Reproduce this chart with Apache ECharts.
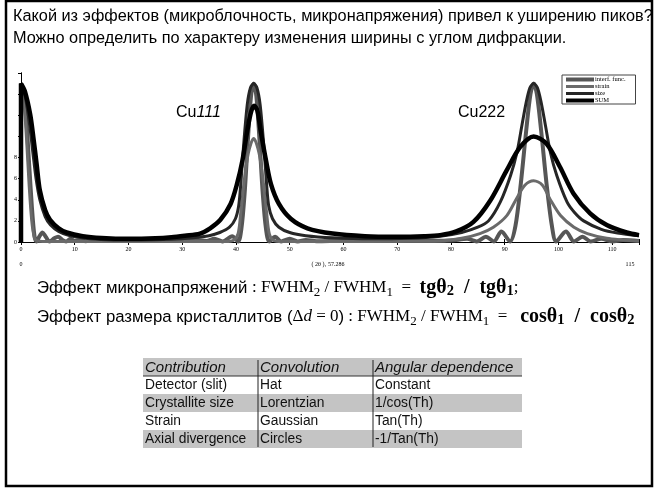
<!DOCTYPE html>
<html><head><meta charset="utf-8">
<script src="https://cdn.jsdelivr.net/npm/echarts@6/dist/echarts.min.js"></script>
<style>html,body{margin:0;padding:0;background:#fff}#c{width:656px;height:488px}</style>
</head><body><div id="c"></div>
<script>
// ---- texts ----
const titleLines = [
  'Какой из эффектов (микроблочность, микронапряжения) привел к уширению пиков?',
  'Можно определить по характеру изменения ширины с углом дифракции.'
];
const peakLabels = [['Cu', '111'], ['Cu', '222']];
const seriesNames = ['interf. func.', 'strain', 'size', 'SUM'];
const xTickValues = [0, 10, 20, 30, 40, 50, 60, 70, 80, 90, 100, 110];
const yTickLabels = [0, 2, 4, 6, 8];
const xSubLabels = ['0', '( 2θ )₁ 57.286', '115'];
const tableHeader = ['Contribution', 'Convolution', 'Angular dependence'];
const tableRows = [
  ['Detector (slit)', 'Hat', 'Constant'],
  ['Crystallite size', 'Lorentzian', '1/cos(Th)'],
  ['Strain', 'Gaussian', 'Tan(Th)'],
  ['Axial divergence', 'Circles', '-1/Tan(Th)']
];

// ---- series values (2θ, intensity) ----
const interfData = [[0,0],[0,15],[0.5,14.2],[1.0,11.5],[1.5,7.5],[2.0,3.5],[2.5,0.6],[2.9,0.05],[3.4,0.5],[4.0,0.9],[4.6,0.5],[5.3,0.05],[6.2,0.35],[6.9,0.5],[7.7,0.2],[8.4,0.05],[9.2,0.3],[10,0.1],[11,0.2],[12,0.08],[14,0.15],[16,0.1],[20,0.12],[25,0.1],[30,0.12],[33,0.2],[34.5,0.1],[36,0.3],[37.5,0.05],[39.3,0.55],[40.4,0.05],[41,1.2],[41.6,4.5],[42.2,9.5],[42.8,13.8],[43.3,15],[43.8,13.8],[44.4,9.5],[45,4.5],[45.6,1.2],[46.2,0.05],[47.3,0.5],[48.4,0.05],[50,0.3],[51.5,0.05],[53,0.2],[55,0.08],[60,0.12],[65,0.1],[70,0.1],[75,0.12],[80,0.15],[83,0.3],[84.8,0.05],[86.5,0.5],[88,0.05],[89.4,1.0],[91,0.05],[92,1.5],[93,5.5],[94,10.5],[94.8,14],[95.4,15],[96,14],[96.8,10.5],[97.8,5.5],[98.8,1.5],[99.6,0.05],[101.4,1.0],[102.9,0.05],[104.5,0.5],[106,0.05],[108,0.3],[110,0.05],[112,0.2],[115,0.1]];
const strainData = [[0,15],[0.5,13.5],[1,10],[1.5,5.5],[2,2],[2.5,0.4],[3,0.1],[4,0.05],[10,0.05],[20,0.05],[30,0.05],[38,0.05],[39.5,0.15],[40.4,0.8],[40.9,2.8],[41.5,5.6],[42.3,8.4],[43.3,9.8],[44.3,8.4],[45.1,5.6],[45.7,2.8],[46.2,0.8],[47,0.15],[48.5,0.05],[60,0.05],[70,0.06],[78,0.1],[82,0.35],[85.4,0.8],[87.9,1.4],[90.4,2.5],[92.2,4.1],[93.8,5.4],[95.4,5.8],[97,5.4],[98.4,4.1],[100.4,2.5],[102.9,1.4],[105.4,0.8],[109,0.35],[112,0.2],[115,0.1]];
const sizeData = [[0,15],[0.7,14],[1.5,11.5],[2.2,8.5],[2.8,6],[3.5,4],[4.5,2.4],[5.5,1.6],[7,1.0],[9,0.6],[12,0.35],[16,0.22],[22,0.18],[28,0.25],[32,0.4],[35,0.6],[37,0.9],[38.8,1.4],[39.9,2.2],[40.5,3.4],[40.9,5.5],[41.4,9.0],[42.1,13.0],[42.7,14.6],[43.3,15],[43.9,14.6],[44.5,13.0],[45.2,9.0],[45.7,5.5],[46.1,3.4],[46.8,2.2],[48,1.4],[50,0.9],[53,0.6],[58,0.4],[65,0.3],[72,0.35],[78,0.55],[82,0.9],[85,1.4],[87,2.0],[89.2,3.8],[91.1,6.3],[92.3,8.5],[93.2,11.0],[94.0,13.2],[94.7,14.6],[95.4,15],[96.1,14.6],[96.8,13.2],[97.6,11.0],[98.5,8.5],[99.7,6.3],[101.6,3.8],[103,2.8],[104.7,2.0],[108,1.2],[111,0.85],[115,0.6]];
const sumData = [[0,0],[0,15.0],[0.7,14.3],[1.7,12.1],[2.3,9.9],[2.9,7.4],[3.5,4.9],[4.5,3.0],[5.4,2.1],[7,1.3],[8.5,0.9],[11.5,0.55],[15,0.38],[20,0.3],[25,0.35],[28,0.45],[30.5,0.6],[33.3,0.8],[35.2,1.3],[37.1,2.1],[39,3.6],[40.2,5.5],[41.2,7.7],[42.1,10.5],[42.8,12.3],[43.4,12.9],[44,12.4],[44.6,10.5],[45.6,7.7],[46.5,5.5],[48,3.6],[50.2,2.2],[53.3,1.3],[58,0.8],[64,0.55],[70,0.5],[75,0.55],[78,0.65],[81,1.0],[84.2,1.9],[87.3,3.9],[90.4,6.8],[92.9,9.0],[95.4,10.0],[97.8,9.3],[100.3,7.1],[102.8,4.6],[105.9,2.7],[109,1.6],[112.7,0.9],[115,0.65]];

const seriesData = [interfData, strainData, sizeData, sumData];
const seriesColors = ['#565656', '#6a6a6a', '#262626', '#000000'];
const seriesWidths = [4, 3, 3, 4.5];
const legendWidths = [4, 3, 3, 4];

const chart = echarts.init(document.getElementById('c'), null, {renderer: 'canvas'});

const sans = 'Liberation Sans, Arial, sans-serif';
const serif = 'Liberation Serif, Times New Roman, serif';

const graphics = [];
// outer frame
graphics.push({type: 'rect', shape: {x: 6, y: 1, width: 646, height: 485}, style: {fill: null, stroke: '#000', lineWidth: 2.5}, z: 100});
// title
titleLines.forEach((t, i) => {
  graphics.push({type: 'text', x: 13, y: 17 + i * 22, style: {text: t, font: '16.3px ' + sans, fill: '#000', verticalAlign: 'middle'}});
});
// peak labels
const peakPos = [[176, 113], [458, 113]];
peakLabels.forEach((p, i) => {
  graphics.push({type: 'text', x: peakPos[i][0], y: peakPos[i][1], z: 50, style: {
    text: '{a|' + p[0] + '}{' + (i === 0 ? 'b' : 'a') + '|' + p[1] + '}',
    verticalAlign: 'middle',
    rich: {a: {fontFamily: sans, fontSize: 16, fill: '#000'}, b: {fontFamily: sans, fontSize: 16, fontStyle: 'italic', fill: '#000'}}
  }});
});
// sub labels under x axis
const subPos = [21, 328, 630];
xSubLabels.forEach((t, i) => {
  graphics.push({type: 'text', x: subPos[i], y: 264, style: {text: t, font: '6px ' + serif, fill: '#000', align: 'center', verticalAlign: 'middle'}});
});
// formula lines
const richF = {
  s: {fontFamily: sans, fontSize: 16.8, fill: '#000', lineHeight: 22},
  t: {fontFamily: serif, fontSize: 17, fill: '#000', lineHeight: 22},
  ti: {fontFamily: serif, fontSize: 17, fontStyle: 'italic', fill: '#000', lineHeight: 22},
  sub: {fontFamily: serif, fontSize: 13, fill: '#000', lineHeight: 13, verticalAlign: 'bottom'},
  b: {fontFamily: serif, fontSize: 20, fontWeight: 'bold', fill: '#000', lineHeight: 22},
  bsub: {fontFamily: serif, fontSize: 14.5, fontWeight: 'bold', fill: '#000', lineHeight: 14, verticalAlign: 'bottom'}
};
graphics.push({type: 'text', x: 37, y: 288, style: {verticalAlign: 'middle', rich: richF,
  text: '{s|Эффект микронапряжений }{t|: FWHM}{sub|2}{t| / FWHM}{sub|1}{t|  =  }{b|tgθ}{bsub|2}{b|  /  tgθ}{bsub|1}{t|;}'}});
graphics.push({type: 'text', x: 37, y: 317, style: {verticalAlign: 'middle', rich: richF,
  text: '{s|Эффект размера кристаллитов (}{t|Δ}{ti|d}{t| = 0}{s|)}{t| : FWHM}{sub|2}{t| / FWHM}{sub|1}{t|  =   }{b|cosθ}{bsub|1}{b|  /  cosθ}{bsub|2}'}});

// table
const colX = [143, 258, 373, 522];
const rowY0 = 358, rowH = 18;
const allRows = [tableHeader].concat(tableRows);
allRows.forEach((r, ri) => {
  const y = rowY0 + ri * rowH;
  const fill = (ri % 2 === 0) ? '#c4c4c4' : '#ffffff';
  graphics.push({type: 'rect', shape: {x: colX[0], y: y, width: colX[3] - colX[0], height: rowH}, style: {fill: fill}});
  r.forEach((c, ci) => {
    graphics.push({type: 'text', x: colX[ci] + 2, y: y + rowH / 2 + 0.5, z: 10, style: {text: c, fill: '#111', verticalAlign: 'middle',
      font: (ri === 0 ? 'italic 15px ' : '13.8px ') + sans}});
  });
});
graphics.push({type: 'line', shape: {x1: colX[0], y1: rowY0 + rowH, x2: colX[3], y2: rowY0 + rowH}, style: {stroke: '#333', lineWidth: 1}, z: 11});
[colX[1], colX[2]].forEach(x => {
  graphics.push({type: 'line', shape: {x1: x, y1: rowY0 + 2, x2: x, y2: rowY0 + rowH * allRows.length - 1}, style: {stroke: '#222', lineWidth: 1}, z: 11});
});

const axisLineStyle = {lineStyle: {color: '#000', width: 1}};
const option = {
  animation: false,
  backgroundColor: '#fff',
  grid: {left: 21, top: 73, width: 618, height: 169, containLabel: false},
  legend: {
    orient: 'vertical', left: 562, top: 75, itemWidth: 28, itemHeight: 7, itemGap: 0,
    padding: [1, 10, 0, 2], backgroundColor: '#fff', borderColor: '#444', borderWidth: 1,
    itemStyle: {opacity: 0},
    textStyle: {fontSize: 6.5, fontFamily: serif, color: '#000', padding: [0, 0, 0, -4]},
    data: seriesNames.map((n, i) => ({name: n, lineStyle: {width: legendWidths[i], color: seriesColors[i]}})),
    z: 20
  },
  xAxis: [
    {type: 'value', min: 0, max: 115, interval: 10, position: 'bottom', axisLine: axisLineStyle,
     axisTick: {show: true, inside: true, length: 3, lineStyle: {color: '#000'}},
     axisLabel: {fontSize: 6, fontFamily: serif, color: '#000', margin: 4,
       formatter: v => xTickValues.indexOf(v) >= 0 ? String(v) : ''},
     splitLine: {show: false}},
    {type: 'value', min: 0, max: 115, interval: 10, position: 'top', axisLine: axisLineStyle,
     axisTick: {show: true, inside: true, length: 3, lineStyle: {color: '#000'}},
     axisLabel: {show: false}, splitLine: {show: false}}
  ],
  yAxis: [
    {type: 'value', min: 0, max: 16, interval: 2, position: 'left', axisLine: axisLineStyle,
     axisTick: {show: false},
     axisLabel: {fontSize: 6, fontFamily: serif, color: '#000', margin: 4,
       formatter: v => yTickLabels.indexOf(v) >= 0 ? String(v) : ''},
     splitLine: {show: false}},
    {type: 'value', min: 0, max: 16, interval: 2, position: 'right', axisLine: axisLineStyle,
     axisTick: {show: true, inside: true, length: 3, lineStyle: {color: '#000'}},
     axisLabel: {show: false}, splitLine: {show: false}}
  ],
  series: seriesNames.map((n, i) => ({
    name: n, type: 'line', xAxisIndex: 0, yAxisIndex: 0, data: seriesData[i],
    symbol: 'none', smooth: 0.3, clip: true,
    lineStyle: {color: seriesColors[i], width: seriesWidths[i]},
    itemStyle: {color: seriesColors[i]}
  })),
  graphic: graphics
};
chart.setOption(option);
</script></body></html>
